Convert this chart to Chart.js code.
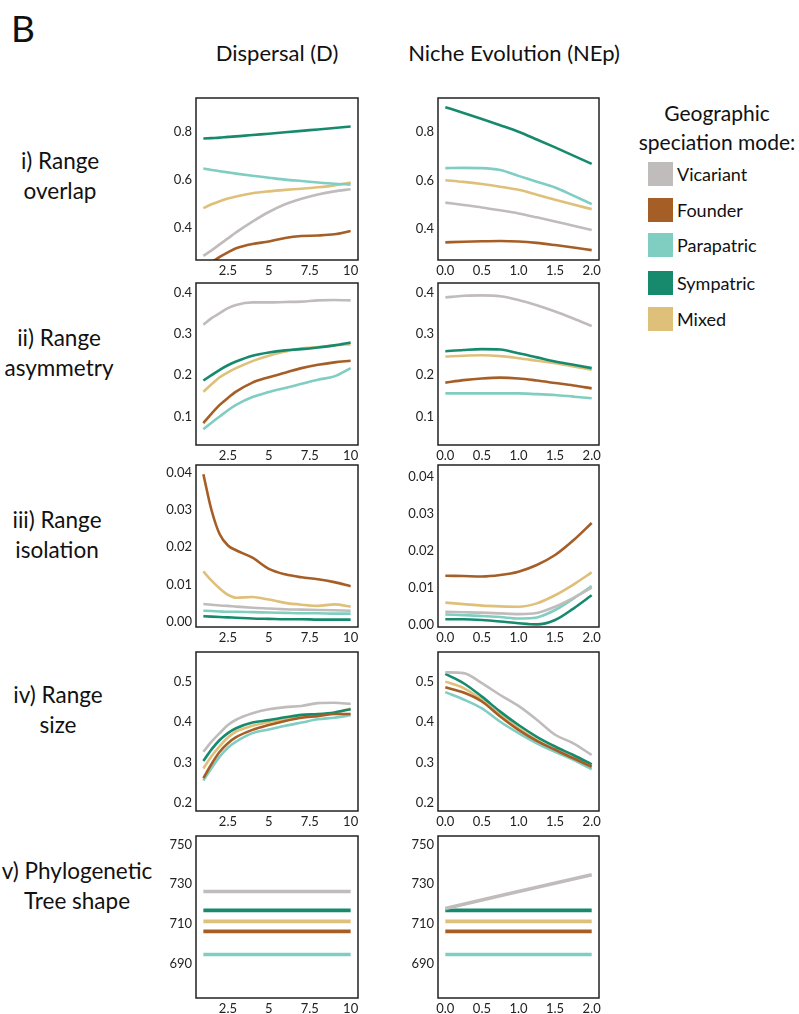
<!DOCTYPE html>
<html>
<head>
<meta charset="utf-8">
<script src="https://cdn.jsdelivr.net/npm/chart.js@4.4.1/dist/chart.umd.min.js"></script>
<style>
  html, body { margin: 0; padding: 0; background: #fff; }
  #page { position: relative; width: 799px; height: 1014px; overflow: hidden; font-family: Lato, "Open Sans", sans-serif; color: #111; }
  .t { position: absolute; white-space: nowrap; transform: translate(-50%, -50%); text-align: center; }
  .lab { position: absolute; white-space: nowrap; transform: translateY(-50%); }
  canvas { position: absolute; }
  .sw { position: absolute; width: 25px; height: 24px; }
</style>
</head>
<body>
<div id="page"></div>
<script>
// Speciation modes and their colours
const modes = ["Vicariant", "Founder", "Parapatric", "Sympatric", "Mixed"];
const modeColors = ["#c0bcbb", "#a65e27", "#80cdc1", "#178a6e", "#dfc07a"];

// Parameter grids
const dispersalX = [1, 1.5, 2, 2.5, 3, 4, 5, 6, 7, 8, 9, 10];
const nicheX = [0, 0.25, 0.5, 0.75, 1, 1.25, 1.5, 1.75, 2];
const dispersalEnds = [1, 10];
const nicheEnds = [0, 2];

// i) Range overlap (series in the order of `modes`)
const overlapD = [
  [0.282, 0.305, 0.330, 0.355, 0.380, 0.425, 0.465, 0.497, 0.520, 0.538, 0.551, 0.560],
  [0.230, 0.255, 0.278, 0.297, 0.314, 0.332, 0.342, 0.357, 0.365, 0.367, 0.372, 0.386],
  [0.646, 0.640, 0.635, 0.630, 0.625, 0.616, 0.608, 0.600, 0.594, 0.588, 0.583, 0.580],
  [0.771, 0.773, 0.775, 0.778, 0.780, 0.786, 0.791, 0.797, 0.803, 0.809, 0.815, 0.821],
  [0.481, 0.497, 0.510, 0.521, 0.530, 0.543, 0.551, 0.557, 0.562, 0.568, 0.576, 0.588]
];
const overlapN = [
  [0.508, 0.498, 0.488, 0.476, 0.463, 0.447, 0.430, 0.412, 0.394],
  [0.343, 0.346, 0.348, 0.349, 0.347, 0.341, 0.332, 0.322, 0.311],
  [0.651, 0.652, 0.651, 0.643, 0.619, 0.595, 0.571, 0.537, 0.502],
  [0.904, 0.880, 0.855, 0.829, 0.802, 0.770, 0.737, 0.703, 0.669],
  [0.601, 0.594, 0.585, 0.574, 0.561, 0.541, 0.520, 0.500, 0.481]
];

// ii) Range asymmetry
const asymmetryD = [
  [0.322, 0.338, 0.350, 0.362, 0.370, 0.376, 0.376, 0.377, 0.378, 0.381, 0.382, 0.381],
  [0.084, 0.107, 0.128, 0.145, 0.160, 0.182, 0.195, 0.206, 0.217, 0.225, 0.231, 0.235],
  [0.069, 0.085, 0.100, 0.115, 0.128, 0.147, 0.159, 0.169, 0.179, 0.189, 0.197, 0.217],
  [0.187, 0.200, 0.213, 0.224, 0.233, 0.247, 0.255, 0.260, 0.263, 0.267, 0.272, 0.279],
  [0.160, 0.178, 0.195, 0.207, 0.217, 0.234, 0.247, 0.257, 0.265, 0.268, 0.272, 0.275]
];
const asymmetryN = [
  [0.388, 0.392, 0.393, 0.391, 0.382, 0.369, 0.354, 0.337, 0.319],
  [0.182, 0.188, 0.192, 0.194, 0.192, 0.187, 0.181, 0.175, 0.168],
  [0.156, 0.156, 0.156, 0.156, 0.156, 0.154, 0.152, 0.148, 0.144],
  [0.258, 0.261, 0.263, 0.262, 0.253, 0.243, 0.233, 0.225, 0.217],
  [0.245, 0.247, 0.248, 0.246, 0.241, 0.235, 0.229, 0.221, 0.213]
];

// iii) Range isolation
const isolationD = [
  [0.0047, 0.0045, 0.0043, 0.0042, 0.0040, 0.0037, 0.0035, 0.0033, 0.0032, 0.0031, 0.0030, 0.0029],
  [0.0397, 0.0300, 0.0235, 0.0205, 0.0192, 0.0172, 0.0142, 0.0127, 0.0119, 0.0114, 0.0106, 0.0095],
  [0.0029, 0.0028, 0.0027, 0.0026, 0.0026, 0.0025, 0.0024, 0.0023, 0.0022, 0.0022, 0.0021, 0.0021],
  [0.0014, 0.0013, 0.0012, 0.0011, 0.0010, 0.0008, 0.0007, 0.0006, 0.0006, 0.0005, 0.0005, 0.0005],
  [0.0135, 0.0110, 0.0089, 0.0072, 0.0064, 0.0066, 0.0059, 0.0050, 0.0045, 0.0042, 0.0046, 0.0040]
];
const isolationN = [
  [0.0034, 0.0033, 0.0032, 0.0030, 0.0028, 0.0031, 0.0048, 0.0072, 0.0100],
  [0.0132, 0.0131, 0.0130, 0.0134, 0.0143, 0.0161, 0.0188, 0.0228, 0.0275],
  [0.0027, 0.0025, 0.0023, 0.0020, 0.0016, 0.0019, 0.0039, 0.0070, 0.0104],
  [0.0014, 0.0014, 0.0012, 0.0008, 0.0003, 0.0000, 0.0012, 0.0043, 0.0079],
  [0.0059, 0.0055, 0.0051, 0.0049, 0.0048, 0.0057, 0.0079, 0.0108, 0.0141]
];

// iv) Range size
const sizeD = [
  [0.327, 0.352, 0.373, 0.393, 0.406, 0.422, 0.432, 0.437, 0.440, 0.447, 0.448, 0.445],
  [0.262, 0.297, 0.327, 0.348, 0.363, 0.381, 0.393, 0.403, 0.411, 0.415, 0.420, 0.420],
  [0.256, 0.287, 0.315, 0.337, 0.352, 0.373, 0.382, 0.391, 0.399, 0.407, 0.411, 0.417],
  [0.304, 0.333, 0.356, 0.373, 0.385, 0.399, 0.405, 0.412, 0.418, 0.420, 0.424, 0.432],
  [0.286, 0.316, 0.341, 0.362, 0.377, 0.391, 0.400, 0.407, 0.414, 0.417, 0.422, 0.434]
];
const sizeN = [
  [0.523, 0.521, 0.496, 0.467, 0.440, 0.406, 0.369, 0.348, 0.319],
  [0.486, 0.473, 0.451, 0.414, 0.381, 0.354, 0.332, 0.311, 0.290],
  [0.474, 0.456, 0.434, 0.401, 0.373, 0.348, 0.327, 0.307, 0.284],
  [0.519, 0.496, 0.463, 0.426, 0.393, 0.364, 0.340, 0.319, 0.296],
  [0.500, 0.484, 0.455, 0.418, 0.385, 0.356, 0.333, 0.313, 0.292]
];

// v) Phylogenetic tree shape (values at the two ends of each parameter range)
const treeShapeD = [
  [726.4, 726.4],
  [706.4, 706.4],
  [694.8, 694.8],
  [716.9, 716.9],
  [711.4, 711.4]
];
const treeShapeN = [
  [717.9, 734.8],
  [706.4, 706.4],
  [694.8, 694.8],
  [716.9, 716.9],
  [711.4, 711.4]
];

// Tick values and labels
const dispersalTicks = [2.5, 5, 7.5, 10];
const dispersalTickLabels = ["2.5", "5", "7.5", "10"];
const nicheTicks = [0, 0.5, 1, 1.5, 2];
const nicheTickLabels = ["0.0", "0.5", "1.0", "1.5", "2.0"];
const overlapTicks = [0.4, 0.6, 0.8];
const overlapTickLabels = ["0.4", "0.6", "0.8"];
const asymmetryTicks = [0.1, 0.2, 0.3, 0.4];
const asymmetryTickLabels = ["0.1", "0.2", "0.3", "0.4"];
const isolationTicks = [0, 0.01, 0.02, 0.03, 0.04];
const isolationTickLabels = ["0.00", "0.01", "0.02", "0.03", "0.04"];
const sizeTicks = [0.2, 0.3, 0.4, 0.5];
const sizeTickLabels = ["0.2", "0.3", "0.4", "0.5"];
const treeTicks = [690, 710, 730, 750];
const treeTickLabels = ["690", "710", "730", "750"];

// Text
const columnTitles = ["Dispersal (D)", "Niche Evolution (NEp)"];
const rowTitles = [
  ["i) Range", "overlap"],
  ["ii) Range", "asymmetry"],
  ["iii) Range", "isolation"],
  ["iv) Range", "size"],
  ["v) Phylogenetic", "Tree shape"]
];
const legendTitle = ["Geographic", "speciation mode:"];

// ---------- layout ----------
const page = document.getElementById("page");
const colBox = [[196, 358], [438, 599]];
const rowBox = [[98, 260], [283, 445], [465, 627], [652, 811], [836, 998]];
const AXW = 45, AXH = 24, PADT = 8, PADR = 12;

function text(cls, str, x, y, style) {
  const d = document.createElement("div");
  d.className = cls;
  d.textContent = str;
  d.style.left = x + "px";
  d.style.top = y + "px";
  Object.assign(d.style, style || {});
  page.appendChild(d);
  return d;
}

// panel letter, column titles, row titles
text("lab", "B", 11, 27, { fontSize: "37px" });
text("t", columnTitles[0], 277, 52, { fontSize: "22px" });
text("t", columnTitles[1], 514, 52, { fontSize: "22px" });
const rowCenters = [175, 352, 534, 709, 885];
const rowCentersX = [60, 59, 57, 58, 77];
rowTitles.forEach((r, i) => {
  text("t", r[0], rowCentersX[i], rowCenters[i] - 15, { fontSize: "22.5px" });
  text("t", r[1], rowCentersX[i], rowCenters[i] + 15, { fontSize: "22.5px" });
});

// legend
text("t", legendTitle[0], 717, 112, { fontSize: "21px" });
text("t", legendTitle[1], 717, 141, { fontSize: "21px" });
const legendTops = [162, 198, 233, 271, 307];
modes.forEach((m, i) => {
  const s = document.createElement("div");
  s.className = "sw";
  s.style.left = "648px";
  s.style.top = legendTops[i] + "px";
  s.style.background = modeColors[i];
  page.appendChild(s);
  text("lab", m, 677, legendTops[i] + 12, { fontSize: "18px" });
});

// frame drawn round each plotting area
const framePlugin = {
  id: "frame",
  afterDatasetsDraw(chart) {
    const a = chart.chartArea, c = chart.ctx;
    c.save();
    c.strokeStyle = "#222";
    c.lineWidth = 1.5;
    c.strokeRect(a.left, a.top, a.right - a.left, a.bottom - a.top);
    c.restore();
  }
};

function panel(row, col, xs, series, yMin, yMax, yTicks, yLabels, width) {
  const [bl, br] = colBox[col];
  const [bt, bb] = rowBox[row];
  const cv = document.createElement("canvas");
  const w = br - bl + AXW + PADR, h = bb - bt + AXH + PADT;
  cv.width = w; cv.height = h;
  cv.style.left = (bl - AXW) + "px";
  cv.style.top = (bt - PADT) + "px";
  cv.style.width = w + "px"; cv.style.height = h + "px";
  page.appendChild(cv);

  const xTicks = col === 0 ? dispersalTicks : nicheTicks;
  const xLabels = col === 0 ? dispersalTickLabels : nicheTickLabels;
  const xMin = col === 0 ? 0.55 : -0.1;
  const xMax = col === 0 ? 10.45 : 2.1;

  const datasets = series.map((vals, i) => ({
    label: modes[i],
    data: vals.map((v, j) => ({ x: xs[j], y: v })),
    borderColor: modeColors[i],
    borderWidth: width,
    pointRadius: 0,
    fill: false,
    cubicInterpolationMode: "monotone",
    clip: 0
  }));

  const tickFont = { family: "Lato, 'Open Sans', sans-serif", size: 13 };
  new Chart(cv, {
    type: "line",
    data: { datasets },
    plugins: [framePlugin],
    options: {
      responsive: false,
      animation: false,
      events: [],
      layout: { padding: { left: 0, right: PADR, top: PADT, bottom: 0 } },
      plugins: { legend: { display: false }, tooltip: { enabled: false } },
      scales: {
        x: {
          type: "linear", min: xMin, max: xMax,
          grid: { display: false, drawTicks: false },
          border: { display: false },
          afterBuildTicks: s => { s.ticks = xTicks.map(v => ({ value: v })); },
          afterFit: s => { s.height = AXH; s.paddingLeft = 0; s.paddingRight = 0; },
          ticks: {
            autoSkip: false, maxRotation: 0, padding: 3, color: "#222", font: tickFont,
            callback: (v) => xLabels[xTicks.indexOf(v)]
          }
        },
        y: {
          type: "linear", min: yMin, max: yMax,
          grid: { display: false, drawTicks: false },
          border: { display: false },
          afterBuildTicks: s => { s.ticks = yTicks.map(v => ({ value: v })); },
          afterFit: s => { s.width = AXW; s.paddingTop = 0; s.paddingBottom = 0; },
          ticks: {
            autoSkip: false, padding: 4, color: "#222", font: tickFont,
            callback: (v) => yLabels[yTicks.indexOf(v)]
          }
        }
      }
    }
  });
}

panel(0, 0, dispersalX, overlapD, 0.265, 0.94, overlapTicks, overlapTickLabels, 2.6);
panel(0, 1, nicheX, overlapN, 0.27, 0.942, overlapTicks, overlapTickLabels, 2.6);
panel(1, 0, dispersalX, asymmetryD, 0.031, 0.423, asymmetryTicks, asymmetryTickLabels, 2.6);
panel(1, 1, nicheX, asymmetryN, 0.031, 0.423, asymmetryTicks, asymmetryTickLabels, 2.6);
panel(2, 0, dispersalX, isolationD, -0.0015, 0.0422, isolationTicks, isolationTickLabels, 2.6);
panel(2, 1, nicheX, isolationN, -0.0007, 0.0432, isolationTicks, isolationTickLabels, 2.6);
panel(3, 0, dispersalX, sizeD, 0.181, 0.573, sizeTicks, sizeTickLabels, 2.6);
panel(3, 1, nicheX, sizeN, 0.181, 0.573, sizeTicks, sizeTickLabels, 2.6);
panel(4, 0, dispersalEnds, treeShapeD, 673, 754.2, treeTicks, treeTickLabels, 3.6);
panel(4, 1, nicheEnds, treeShapeN, 673, 754.2, treeTicks, treeTickLabels, 3.6);
</script>
</body>
</html>
